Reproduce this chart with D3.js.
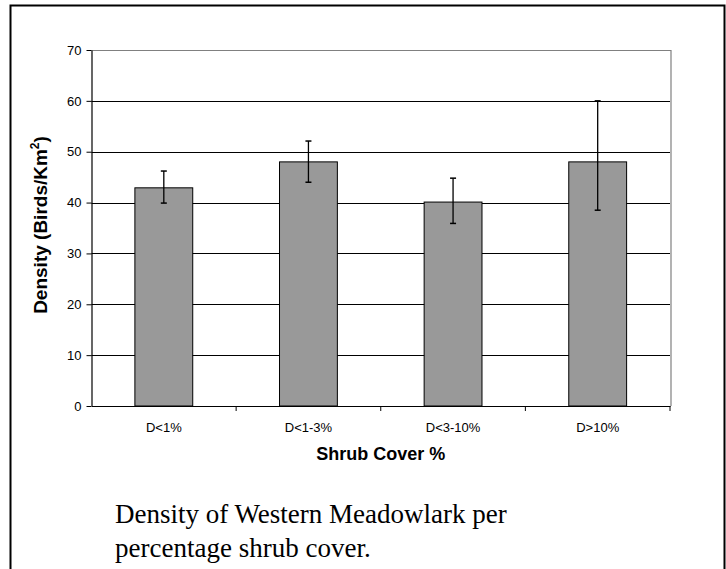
<!DOCTYPE html>
<html>
<head>
<meta charset="utf-8">
<script src="https://cdn.jsdelivr.net/npm/d3@7"></script>
<style>
  body { margin: 0; background: #fff; }
  svg { display: block; }
</style>
</head>
<body>
<svg id="chart"></svg>
<script>
'use strict';

var categories = ["D<1%", "D<1-3%", "D<3-10%", "D>10%"];
var density = [42.9, 48.0, 40.1, 48.0];
var errLow = [39.9, 44.0, 35.9, 38.5];
var errHigh = [46.2, 52.1, 44.8, 60.0];
var yTicks = [0, 10, 20, 30, 40, 50, 60, 70];
var captionLines = ["Density of Western Meadowlark per", "percentage shrub cover."];

var svgWidth = 726,
    svgHeight = 569;
var margin = { top: 50, right: 56, bottom: 163, left: 91.5 };
var width = svgWidth - margin.left - margin.right;
var height = svgHeight - margin.top - margin.bottom;

var svg = d3.select("#chart")
    .attr("width", svgWidth)
    .attr("height", svgHeight);

// page frame round the chart object
svg.append("path")
    .attr("d", "M10.5,575V5.5H724.5V575")
    .attr("fill", "none")
    .attr("stroke", "#000")
    .attr("stroke-width", 2);

var g = svg.append("g")
    .attr("transform", "translate(" + margin.left + "," + margin.top + ")");

var x = d3.scaleBand()
    .domain(categories)
    .range([0, width])
    .paddingInner(0.6)
    .paddingOuter(0.3);

var y = d3.scaleLinear()
    .domain([0, 70])
    .range([height, 0]);

// gridlines
g.append("g")
    .attr("class", "grid")
    .selectAll("line")
    .data(yTicks.filter(function (d) { return d > 0 && d < 70; }))
    .enter().append("line")
    .attr("x1", 0)
    .attr("x2", width)
    .attr("y1", function (d) { return Math.round(y(d)) + 0.5; })
    .attr("y2", function (d) { return Math.round(y(d)) + 0.5; })
    .attr("stroke", "#000")
    .attr("stroke-width", 1);

// plot area border (top and right in grey)
g.append("path")
    .attr("d", "M0," + (Math.round(y(70)) + 0.5) + "H" + (Math.round(width) + 0.5) + "V" + height)
    .attr("fill", "none")
    .attr("stroke", "#808080")
    .attr("stroke-width", 1.2);

// bars
g.selectAll(".bar")
    .data(density)
    .enter().append("rect")
    .attr("class", "bar")
    .attr("x", function (d, i) { return x(categories[i]); })
    .attr("y", function (d) { return y(d); })
    .attr("width", x.bandwidth())
    .attr("height", function (d) { return height - y(d); })
    .attr("fill", "#999999")
    .attr("stroke", "#000")
    .attr("stroke-width", 1);

// error bars
var err = g.append("g").attr("class", "errors");
density.forEach(function (d, i) {
    var cx = x(categories[i]) + x.bandwidth() / 2;
    err.append("line")
        .attr("x1", cx).attr("x2", cx)
        .attr("y1", y(errHigh[i])).attr("y2", y(errLow[i]))
        .attr("stroke", "#000").attr("stroke-width", 1.3);
    [errHigh[i], errLow[i]].forEach(function (v) {
        err.append("line")
            .attr("x1", cx - 3).attr("x2", cx + 3)
            .attr("y1", y(v)).attr("y2", y(v))
            .attr("stroke", "#000").attr("stroke-width", 1.5);
    });
});

// y axis
var yAxis = g.append("g")
    .attr("class", "axis y")
    .call(d3.axisLeft(y).tickValues(yTicks).tickSize(5).tickSizeOuter(0).tickPadding(5));

// x axis, ticks sit between the categories
var bounds = d3.range(categories.length + 1).map(function (i) { return i * width / categories.length; });
var xAxis = g.append("g")
    .attr("class", "axis x")
    .attr("transform", "translate(0," + height + ")")
    .call(d3.axisBottom(x).tickSize(0).tickSizeOuter(0).tickPadding(17));
xAxis.selectAll(".tickmark")
    .data(bounds.slice(1))
    .enter().append("line")
    .attr("class", "tickmark")
    .attr("x1", function (d) { return d; })
    .attr("x2", function (d) { return d; })
    .attr("y1", 0).attr("y2", 5)
    .attr("stroke", "#000");

svg.selectAll(".axis .domain").attr("stroke", "#000").attr("stroke-width", 1.2);
svg.selectAll(".axis text")
    .attr("font-family", "Arial, 'Liberation Sans', sans-serif")
    .attr("font-size", 13)
    .attr("fill", "#000");

// axis titles
g.append("text")
    .attr("x", width / 2)
    .attr("y", height + 54)
    .attr("text-anchor", "middle")
    .attr("font-family", "Arial, 'Liberation Sans', sans-serif")
    .attr("font-weight", "bold")
    .attr("font-size", 18)
    .text("Shrub Cover %");

var yTitle = g.append("text")
    .attr("transform", "translate(-45," + (height / 2 - 3) + ") rotate(-90)")
    .attr("text-anchor", "middle")
    .attr("font-family", "Arial, 'Liberation Sans', sans-serif")
    .attr("font-weight", "bold")
    .attr("font-size", 19);
yTitle.append("tspan").text("Density (Birds/Km");
yTitle.append("tspan").attr("dy", -8).attr("font-size", 12).text("2");
yTitle.append("tspan").attr("dy", 8).text(")");

// caption below the chart
svg.append("g")
    .selectAll("text")
    .data(captionLines)
    .enter().append("text")
    .attr("x", 115)
    .attr("y", function (d, i) { return 523 + i * 34; })
    .attr("font-family", "'Times New Roman', 'Liberation Serif', serif")
    .attr("font-size", 27)
    .attr("fill", "#000")
    .text(function (d) { return d; });
</script>
</body>
</html>
